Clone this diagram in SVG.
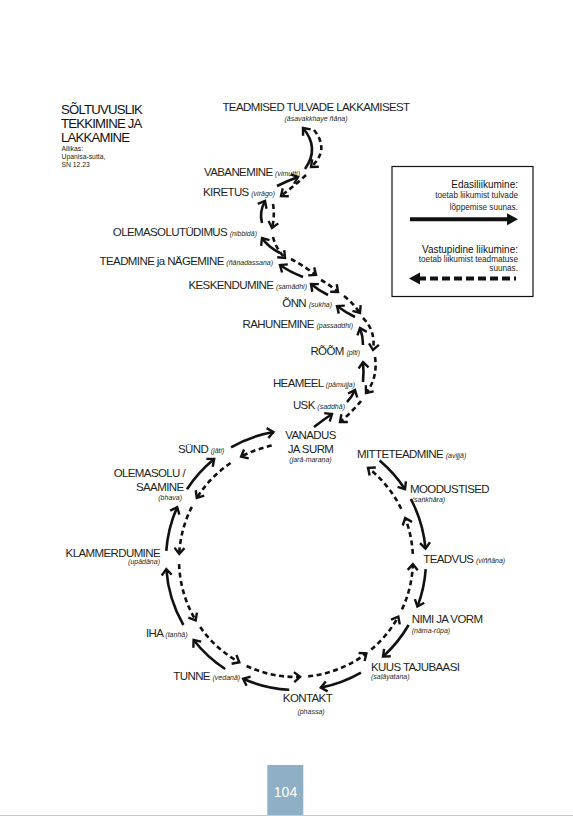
<svg xmlns="http://www.w3.org/2000/svg" width="573" height="816" viewBox="0 0 573 816">
<style>
.t{font-family:"Liberation Sans",Arial,sans-serif;font-size:11.5px;letter-spacing:-0.6px;fill:#231f20}
.p{font-style:italic;font-size:7px;letter-spacing:0}
.ti{font-family:"Liberation Sans",Arial,sans-serif;font-size:13.2px;letter-spacing:-0.8px;fill:#111}
.sm{font-family:"Liberation Sans",Arial,sans-serif;font-size:6.8px;fill:#231f20}
.lh{font-family:"Liberation Sans",Arial,sans-serif;font-size:10px;fill:#111}
.lb{font-family:"Liberation Sans",Arial,sans-serif;font-size:8.2px;fill:#231f20}
.s{fill:none;stroke:#111;stroke-width:2.6;marker-end:url(#ah)}
.d{fill:none;stroke:#111;stroke-width:2.6;stroke-dasharray:5 3.5;marker-end:url(#ah)}
</style>
<defs>
<marker id="ah" viewBox="-9 -7 11 14" refX="0" refY="0" markerWidth="11" markerHeight="14" markerUnits="userSpaceOnUse" orient="auto" overflow="visible">
<path d="M-6,-5 L0,0 L-6,5" fill="none" stroke="#111" stroke-width="2.4" stroke-dasharray="none"/>
</marker>
</defs>
<rect width="573" height="816" fill="#fff"/>

<g id="title">
<text class="ti" x="61" y="114">SÕLTUVUSLIK</text>
<text class="ti" x="61" y="128.3">TEKKIMINE JA</text>
<text class="ti" x="61" y="142.3">LAKKAMINE</text>
<text class="sm" x="61.5" y="151">Allikas:</text>
<text class="sm" x="61.5" y="159.2">Upanisa-sutta,</text>
<text class="sm" x="61.5" y="166.6">SN 12.23</text>
</g>

<g id="legend">
<rect x="392" y="166.5" width="141" height="130" fill="none" stroke="#111" stroke-width="1.2"/>
<text class="lh" x="518" y="188.4" text-anchor="end">Edasiliikumine:</text>
<text class="lb" x="518" y="198" text-anchor="end">toetab liikumist tulvade</text>
<text class="lb" x="518" y="209.5" text-anchor="end">lõppemise suunas.</text>
<line x1="410" y1="219.3" x2="509" y2="219.3" stroke="#111" stroke-width="4"/>
<polygon points="507,213.3 518,219.3 507,225.3" fill="#111"/>
<text class="lh" x="518" y="252.7" text-anchor="end">Vastupidine liikumine:</text>
<text class="lb" x="518" y="262.2" text-anchor="end">toetab liikumist teadmatuse</text>
<text class="lb" x="518" y="271.2" text-anchor="end">suunas.</text>
<line x1="418" y1="278.5" x2="516" y2="278.5" stroke="#111" stroke-width="4" stroke-dasharray="8 4"/>
<polygon points="420,272.5 409,278.5 420,284.5" fill="#111"/>
</g>

<g id="n-teadmised"><text class="t" x="316" y="111" text-anchor="middle">TEADMISED TULVADE LAKKAMISEST</text>
<text class="t p" x="316" y="120.8" text-anchor="middle">(āsavakkhaye ñāṇa)</text></g>
<g id="n-vabanemine"><text class="t" x="300" y="175.5" text-anchor="end">VABANEMINE <tspan class="p">(vimutti)</tspan></text></g>
<g id="n-kiretus"><text class="t" x="275" y="195.7" text-anchor="end">KIRETUS <tspan class="p">(virāgo)</tspan></text></g>
<g id="n-olemasolutudimus"><text class="t" x="257" y="235.7" text-anchor="end">OLEMASOLUTÜDIMUS <tspan class="p">(nibbidā)</tspan></text></g>
<g id="n-teadmine"><text class="t" x="273" y="264.7" text-anchor="end">TEADMINE ja NÄGEMINE <tspan class="p">(ñāṇadassana)</tspan></text></g>
<g id="n-keskendumine"><text class="t" x="307" y="289" text-anchor="end">KESKENDUMINE <tspan class="p">(samādhi)</tspan></text></g>
<g id="n-onn"><text class="t" x="332" y="307.3" text-anchor="end">ÕNN <tspan class="p">(sukha)</tspan></text></g>
<g id="n-rahunemine"><text class="t" x="353" y="328.3" text-anchor="end">RAHUNEMINE <tspan class="p">(passaddhi)</tspan></text></g>
<g id="n-room"><text class="t" x="360" y="355" text-anchor="end">RÕÕM <tspan class="p">(pīti)</tspan></text></g>
<g id="n-heameel"><text class="t" x="355" y="387.3" text-anchor="end">HEAMEEL <tspan class="p">(pāmujja)</tspan></text></g>
<g id="n-usk"><text class="t" x="345" y="409" text-anchor="end">USK <tspan class="p">(saddhā)</tspan></text></g>

<g id="n-vanadus"><text class="t" x="310.5" y="439" text-anchor="middle">VANADUS</text>
<text class="t" x="310.5" y="453.3" text-anchor="middle">JA SURM</text>
<text class="t p" x="310.5" y="461.8" text-anchor="middle">(jarā-maraṇa)</text></g>
<g id="n-synd"><text class="t" x="178" y="453.3">SÜND <tspan class="p">(jāti)</tspan></text></g>
<g id="n-olemasolu"><text class="t" x="185" y="477.3" text-anchor="end">OLEMASOLU /</text>
<text class="t" x="183.5" y="491" text-anchor="end">SAAMINE</text>
<text class="t p" x="182" y="499.5" text-anchor="end">(bhava)</text></g>
<g id="n-klammerdumine"><text class="t" x="160" y="556.7" text-anchor="end">KLAMMERDUMINE</text>
<text class="t p" x="160" y="564.2" text-anchor="end">(upādāna)</text></g>
<g id="n-iha"><text class="t" x="146" y="637.3">IHA <tspan class="p">(taṇhā)</tspan></text></g>
<g id="n-tunne"><text class="t" x="173.3" y="680">TUNNE <tspan class="p">(vedanā)</tspan></text></g>
<g id="n-kontakt"><text class="t" x="307.5" y="702.3" text-anchor="middle">KONTAKT</text>
<text class="t p" x="311" y="713.5" text-anchor="middle">(phassa)</text></g>
<g id="n-kuus"><text class="t" x="371" y="670.7">KUUS TAJUBAASI</text>
<text class="t p" x="371" y="679.2">(saḷāyatana)</text></g>
<g id="n-nimi"><text class="t" x="411.7" y="623.3">NIMI JA VORM</text>
<text class="t p" x="411.7" y="632.5">(nāma-rūpa)</text></g>
<g id="n-teadvus"><text class="t" x="423.3" y="563.3">TEADVUS <tspan class="p">(viññāna)</tspan></text></g>
<g id="n-moodustised"><text class="t" x="410" y="493.3">MOODUSTISED</text>
<text class="t p" x="411.7" y="501.8">(saṅkhāra)</text></g>
<g id="n-mitteteadmine"><text class="t" x="357" y="458">MITTETEADMINE <tspan class="p">(avijjā)</tspan></text></g>

<g id="connectors">
<path class="s" d="M305,169 Q320,148 303,128"/>
<path class="d" d="M314,130 Q330,150 311,167"/>
<path class="s" d="M277,186 Q287,181 298,177"/>
<path class="d" d="M306,175 Q294,186 281,196"/>
<path class="s" d="M262,223 Q259,212 265,201"/>
<path class="d" d="M273,204 Q275,216 272,228"/>
<path class="s" d="M280,253 Q268,247 262,238"/>
<path class="d" d="M273,237 Q276,249 285,258"/>
<path class="s" d="M303,277 Q290,272 280,265"/>
<path class="d" d="M291,259 Q304,266 316,275"/>
<path class="s" d="M328,295 Q318,290 311,284"/>
<path class="d" d="M321,280 Q330,285 338,292"/>
<path class="s" d="M355,317 Q345,312 337,306"/>
<path class="d" d="M344,296 Q353,303 360,313"/>
<path class="s" d="M363,345 Q363,336 360,328"/>
<path class="d" d="M363,318 Q376,331 373,350"/>
<path class="s" d="M363,382 Q364,372 363,362"/>
<path class="d" d="M375,357 Q378,378 366,393"/>
<path class="s" d="M347,402 Q352,397 355,390"/>
<path class="d" d="M361,401 Q352,412 340,422"/>
<path class="s" d="M314,427 Q323,420 332,414"/>

<path class="s" d="M379.6,460.4 A130,130 0 0 1 405,489.2"/>
<path class="s" d="M410.8,499 A130,130 0 0 1 425.5,548.7"/>
<path class="s" d="M425.7,569.1 A130,130 0 0 1 417.4,606.6"/>
<path class="s" d="M408.6,625 A130,130 0 0 1 383,656.6"/>
<path class="s" d="M361,672.6 A130,130 0 0 1 320.8,687.6"/>
<path class="s" d="M289.2,689.8 A130,130 0 0 1 243.1,678.8"/>
<path class="s" d="M225.2,669 A130,130 0 0 1 193.6,640"/>
<path class="s" d="M183.4,625 A130,130 0 0 1 166.3,569.1"/>
<path class="s" d="M166.3,550.9 A130,130 0 0 1 177.2,507.1"/>
<path class="s" d="M187,489.2 A130,130 0 0 1 214.2,459"/>
<path class="s" d="M231,447.4 A130,130 0 0 1 273.4,432"/>

<path class="d" d="M271.7,445.6 A117,117 0 0 0 241.1,456.7"/>
<path class="d" d="M230.6,463 A117,117 0 0 0 196.8,498"/>
<path class="d" d="M191.8,506.9 A117,117 0 0 0 179.2,553.9"/>
<path class="d" d="M179.1,564.1 A117,117 0 0 0 195.7,620.3"/>
<path class="d" d="M200.2,627.1 A117,117 0 0 0 239.3,662.3"/>
<path class="d" d="M246.6,666 A117,117 0 0 0 300.1,676.9"/>
<path class="d" d="M308.2,676.4 A117,117 0 0 0 366.4,653.4"/>
<path class="d" d="M371.2,649.6 A117,117 0 0 0 398.3,616.7"/>
<path class="d" d="M402,609.4 A117,117 0 0 0 412.9,564.1"/>
<path class="d" d="M412.8,553.9 A117,117 0 0 0 405.2,518.1"/>
<path class="d" d="M401.2,508.7 A117,117 0 0 0 368,467.8"/>
</g>

<g id="page">
<rect x="267.3" y="765" width="36" height="51" fill="#8fb0c4"/>
<text x="285.5" y="797" text-anchor="middle" font-family="Liberation Sans, Arial, sans-serif" font-size="14" fill="#fff">104</text>
<line x1="0" y1="815.5" x2="573" y2="815.5" stroke="#c8c8c8" stroke-width="1"/>
</g>
</svg>
